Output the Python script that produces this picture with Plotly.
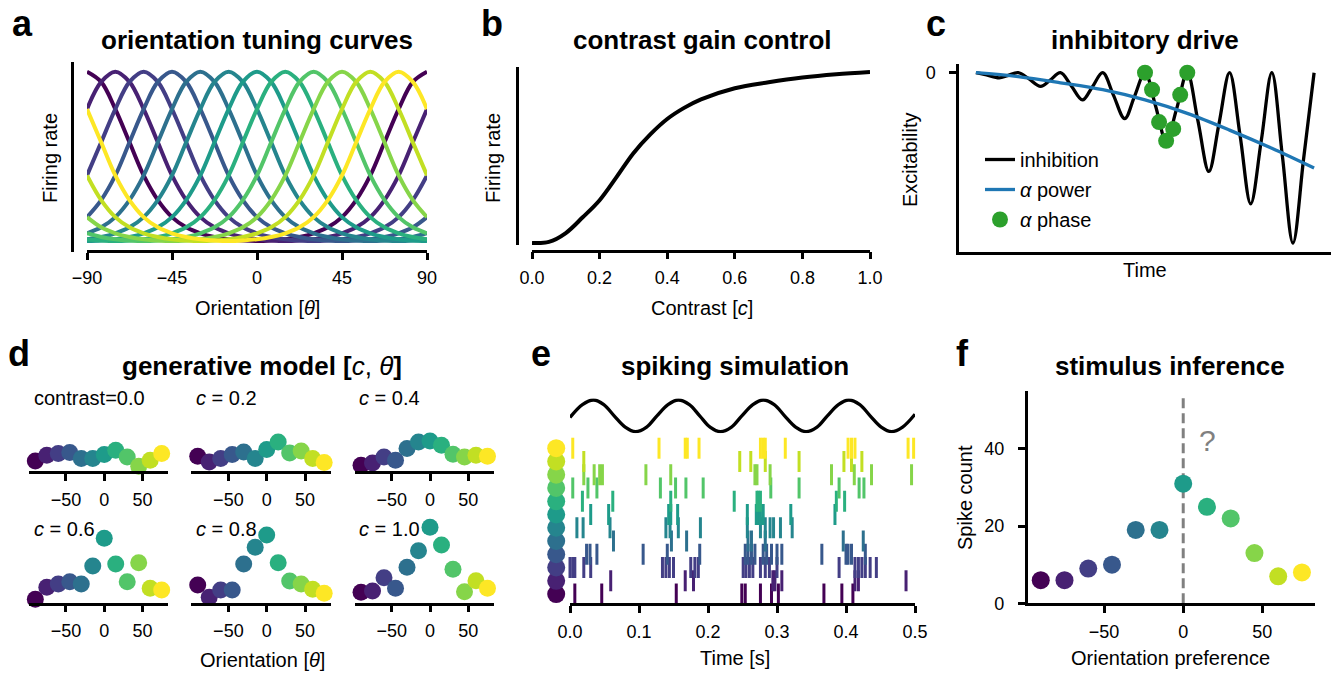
import plotly.graph_objects as go

# ---------------- data ----------------
VIRIDIS12 = ["#440154", "#482173", "#433e85", "#38588c", "#2d708e", "#25858e",
             "#1e9b8a", "#2ab07f", "#52c569", "#86d549", "#c2df23", "#fde725"]

# panel a: tuning curves (shape read vs. circular distance from preferred orientation)
TUNING_PREFS = [-90, -75, -60, -45, -30, -15, 0, 15, 30, 45, 60, 75]
TUNING_OFFSETS = [0, 7.5, 15, 22.5, 30, 37.5, 45, 52.5, 60, 67.5, 75, 82.5, 90]
TUNING_SHAPE = [1.0, 0.94, 0.78, 0.585, 0.39, 0.245, 0.145, 0.085, 0.05, 0.028, 0.015, 0.008, 0.005]
ORIENT_GRID = [-90, -82.5, -75, -67.5, -60, -52.5, -45, -37.5, -30, -22.5, -15, -7.5, 0,
               7.5, 15, 22.5, 30, 37.5, 45, 52.5, 60, 67.5, 75, 82.5, 90]
A_XTICKS = [-90, -45, 0, 45, 90]

# panel b: contrast response
CONTRAST = [0.0, 0.05, 0.1, 0.15, 0.2, 0.25, 0.3, 0.35, 0.4, 0.45, 0.5, 0.6, 0.7, 0.8, 0.9, 1.0]
CONTRAST_RATE = [0.0, 0.006, 0.058, 0.15, 0.25, 0.385, 0.525, 0.635, 0.725, 0.79, 0.84, 0.905,
                 0.94, 0.968, 0.987, 1.0]
B_XTICKS = [0.0, 0.2, 0.4, 0.6, 0.8, 1.0]

# panel c: inhibitory drive
C_TIME = [0, 0.25, 0.55, 0.75, 1, 1.25, 1.53, 1.75, 2, 2.25, 2.52, 2.75, 3, 3.25, 3.52, 3.75,
          4, 4.25, 4.5, 4.75, 5, 5.25, 5.51, 5.75, 6, 6.25, 6.5, 6.75, 7, 7.25, 7.5, 7.75, 8]
C_INHIB = [0, -0.013, -0.03, -0.017, 0, -0.035, -0.08, -0.045, 0, -0.075, -0.16, -0.085,
           0, -0.13, -0.27, -0.14, 0, -0.195, -0.40, -0.21, 0, -0.28, -0.58, -0.30,
           0, -0.37, -0.77, -0.40, 0, -0.49, -1.0, -0.51, 0]
C_POWER_T = [0, 1, 2, 3, 4, 5, 6, 7, 8]
C_POWER = [0, -0.023, -0.059, -0.10, -0.16, -0.239, -0.337, -0.444, -0.56]
C_PHASE_T = [4.0, 4.167, 4.333, 4.5, 4.667, 4.833, 5.0]
C_PHASE_V = [0, -0.10, -0.29, -0.40, -0.33, -0.13, 0]

# panel d: generative model (rate per orientation for each contrast)
D_ORIENT = [-90, -75, -60, -45, -30, -15, 0, 15, 30, 45, 60, 75]
D_LABELS = ["contrast=0.0", "<i>c</i> = 0.2", "<i>c</i> = 0.4",
            "<i>c</i> = 0.6", "<i>c</i> = 0.8", "<i>c</i> = 1.0"]
D_RATE_C00 = [5.2, 8.0, 8.9, 9.4, 6.4, 6.4, 8.4, 10.5, 7.2, 2.5, 5.5, 8.9]
D_RATE_C02 = [7.5, 4.7, 6.4, 8.4, 9.7, 6.4, 10.9, 14.7, 9.2, 10.2, 6.4, 4.4]
D_RATE_C04 = [3.0, 4.2, 7.2, 5.5, 11.4, 14.7, 15.2, 13.0, 8.5, 7.2, 8.0, 7.5]
D_RATE_C06 = [1.6, 7.6, 9.3, 10.4, 9.3, 18.3, 32.1, 19.3, 10.4, 19.9, 7.1, 6.3]
D_RATE_C08 = [8.8, 2.6, 6.3, 6.3, 19.3, 27.6, 33.8, 19.9, 10.8, 9.3, 6.6, 4.6]
D_RATE_C10 = [5.1, 5.8, 12.4, 7.1, 17.6, 25.9, 37.6, 28.8, 16.6, 5.4, 10.9, 7.1]
D_XTICKS = [-50, 0, 50]

# panel e: spiking simulation
E_SINE_T = [0.0, 0.018, 0.034, 0.049, 0.064, 0.080, 0.095, 0.111, 0.126, 0.142, 0.157,
            0.173, 0.188, 0.203, 0.218, 0.234, 0.249, 0.265, 0.280, 0.296, 0.311, 0.327,
            0.342, 0.358, 0.373, 0.389, 0.404, 0.420, 0.435, 0.451, 0.466, 0.482, 0.5]
E_SINE_V = [-0.1, 0.71, 1, 0.71, 0, -0.71, -1, -0.71, 0, 0.71, 1, 0.71, 0, -0.71, -1, -0.71,
            0, 0.71, 1, 0.71, 0, -0.71, -1, -0.71, 0, 0.71, 1, 0.71, 0, -0.71, -1, -0.71, 0.1]
E_NEURON_T = -0.02
E_SPIKES_N0 = [0.007, 0.046, 0.154, 0.249, 0.254, 0.276, 0.292, 0.302, 0.368, 0.394, 0.410]
E_SPIKES_N1 = [0.059, 0.167, 0.179, 0.294, 0.297, 0.307, 0.413, 0.418, 0.487]
E_SPIKES_N2 = [0.000, 0.004, 0.007, 0.020, 0.030, 0.134, 0.139, 0.144, 0.150, 0.175, 0.181,
               0.186, 0.251, 0.255, 0.260, 0.265, 0.276, 0.283, 0.289, 0.300, 0.390, 0.413,
               0.418, 0.423, 0.428, 0.435, 0.444]
E_SPIKES_N3 = [0.024, 0.029, 0.039, 0.106, 0.141, 0.188, 0.254, 0.258, 0.263, 0.268, 0.280,
               0.285, 0.292, 0.300, 0.307, 0.365, 0.400, 0.403, 0.408, 0.428]
E_SPIKES_N4 = [0.063, 0.147, 0.169, 0.258, 0.263, 0.283, 0.396, 0.425]
E_SPIKES_N5 = [0.010, 0.019, 0.058, 0.139, 0.145, 0.157, 0.189, 0.257, 0.276, 0.283, 0.290,
               0.295, 0.305, 0.322]
E_SPIKES_N6 = [0.030, 0.056, 0.143, 0.146, 0.156, 0.257, 0.270, 0.273, 0.276, 0.280, 0.320, 0.384]
E_SPIKES_N7 = [0.018, 0.062, 0.146, 0.238, 0.271, 0.273, 0.276, 0.386, 0.398]
E_SPIKES_N8 = [0.004, 0.026, 0.039, 0.131, 0.153, 0.168, 0.193, 0.291, 0.332, 0.390, 0.419, 0.426]
E_SPIKES_N9 = [0.020, 0.035, 0.043, 0.047, 0.110, 0.146, 0.268, 0.271, 0.290, 0.379, 0.412,
               0.437, 0.495]
E_SPIKES_N10 = [0.020, 0.246, 0.262, 0.283, 0.332, 0.397, 0.408, 0.423]
E_SPIKES_N11 = [0.004, 0.129, 0.167, 0.170, 0.187, 0.276, 0.280, 0.283, 0.312, 0.403, 0.408,
                0.413, 0.490, 0.498]
E_XTICKS = [0.0, 0.1, 0.2, 0.3, 0.4, 0.5]

# panel f: stimulus inference
F_ORIENT = [-90, -75, -60, -45, -30, -15, 0, 15, 30, 45, 60, 75]
F_COUNT = [6, 6, 9, 10, 19, 19, 31, 25, 22, 13, 7, 8]
F_STIM = 0
F_LINE_Y = [0, 53.5]
F_XTICKS = [-50, 0, 50]
F_YTICKS = [0, 20, 40]

# ---------------- helpers ----------------
W, H = 1344, 675
FONT = "Liberation Sans, Arial, sans-serif"


def PX(x):
    return x / W


def PY(y):
    return 1 - y / H


AX = dict(showline=True, linecolor="black", linewidth=2.5, ticks="outside", ticklen=7,
          tickwidth=2.5, tickcolor="black", showgrid=False, zeroline=False,
          tickfont=dict(family=FONT, size=18, color="black"), fixedrange=True)
XT = dict(ticklabelstandoff=3)
YT = dict(ticklabelstandoff=10)

fig = go.Figure()

# ---- panel a ----
for i, p in enumerate(TUNING_PREFS):
    ys = []
    for x in ORIENT_GRID:
        d = abs(((x - p + 90) % 180) - 90)
        ys.append(TUNING_SHAPE[TUNING_OFFSETS.index(d)])
    fig.add_trace(go.Scatter(x=ORIENT_GRID, y=ys, mode="lines", xaxis="x", yaxis="y",
                             line=dict(color=VIRIDIS12[i], width=4, shape="spline"),
                             showlegend=False, hoverinfo="skip"))

# ---- panel b ----
fig.add_trace(go.Scatter(x=CONTRAST, y=CONTRAST_RATE, mode="lines", xaxis="x2", yaxis="y2",
                         line=dict(color="black", width=4, shape="spline"), showlegend=False))

# ---- panel c ----
fig.add_trace(go.Scatter(x=C_TIME, y=C_INHIB, mode="lines", xaxis="x3", yaxis="y3",
                         line=dict(color="black", width=3.3, shape="spline"),
                         name="inhibition", legendgroup="g1"))
fig.add_trace(go.Scatter(x=C_POWER_T, y=C_POWER, mode="lines", xaxis="x3", yaxis="y3",
                         line=dict(color="#1f77b4", width=3.3, shape="spline"),
                         name="<i>α</i> power", legendgroup="g2"))
fig.add_trace(go.Scatter(x=C_PHASE_T, y=C_PHASE_V, mode="markers", xaxis="x3", yaxis="y3",
                         marker=dict(color="#2ca02c", size=16), cliponaxis=False,
                         name="<i>α</i> phase", legendgroup="g3"))

# ---- panel d ----
D_RATES = [D_RATE_C00, D_RATE_C02, D_RATE_C04, D_RATE_C06, D_RATE_C08, D_RATE_C10]
for k, rates in enumerate(D_RATES):
    n = k + 4
    fig.add_trace(go.Scatter(x=D_ORIENT, y=rates, mode="markers", xaxis=f"x{n}", yaxis=f"y{n}",
                             marker=dict(color=VIRIDIS12, size=17, line=dict(width=0)),
                             cliponaxis=False, showlegend=False))

# ---- panel e ----
fig.add_trace(go.Scatter(x=E_SINE_T, y=E_SINE_V, mode="lines", xaxis="x10", yaxis="y11",
                         line=dict(color="black", width=3.3, shape="spline"), showlegend=False))
E_SPIKES = [E_SPIKES_N0, E_SPIKES_N1, E_SPIKES_N2, E_SPIKES_N3, E_SPIKES_N4, E_SPIKES_N5,
            E_SPIKES_N6, E_SPIKES_N7, E_SPIKES_N8, E_SPIKES_N9, E_SPIKES_N10, E_SPIKES_N11]
for r, spikes in enumerate(E_SPIKES):
    fig.add_trace(go.Scatter(x=spikes, y=[r] * len(spikes), mode="markers", xaxis="x10",
                             yaxis="y10", cliponaxis=False, showlegend=False,
                             marker=dict(symbol="line-ns", size=15,
                                         line=dict(width=3, color=VIRIDIS12[r]))))
# neuron identity dots (own hidden axis pair so they can sit left of t = 0)
fig.add_trace(go.Scatter(x=[E_NEURON_T] * 12, y=list(range(12)), mode="markers", xaxis="x12",
                         yaxis="y13", cliponaxis=False, showlegend=False,
                         marker=dict(color=VIRIDIS12, size=18, line=dict(width=0))))

# ---- panel f ----
fig.add_trace(go.Scatter(x=[F_STIM, F_STIM], y=F_LINE_Y, mode="lines", xaxis="x11", yaxis="y12",
                         line=dict(color="#808080", width=3, dash="10px,5px"), showlegend=False))
fig.add_trace(go.Scatter(x=F_ORIENT, y=F_COUNT, mode="markers", xaxis="x11", yaxis="y12",
                         marker=dict(color=VIRIDIS12, size=18, line=dict(width=0)),
                         cliponaxis=False, showlegend=False))

# ---------------- axes ----------------
lay = {}
lay["xaxis"] = dict(AX, **XT, domain=[PX(87), PX(427)], range=[-90, 90], anchor="free",
                    position=PY(251), tickvals=A_XTICKS)
lay["yaxis"] = dict(AX, domain=[PY(252), PY(62)], range=[-0.06, 1.057], anchor="free",
                    position=PX(72), ticks="", showticklabels=False)
lay["xaxis2"] = dict(AX, **XT, domain=[PX(532), PX(870)], range=[0, 1], anchor="free",
                     position=PY(250.5), tickvals=B_XTICKS, tickformat=".1f")
lay["yaxis2"] = dict(AX, domain=[PY(245), PY(67)], range=[-0.012, 1.029], anchor="free",
                     position=PX(516.7), ticks="", showticklabels=False)
lay["xaxis3"] = dict(AX, domain=[PX(959), PX(1331)], range=[-0.4, 8.4], anchor="y3",
                     ticks="", showticklabels=False)
lay["yaxis3"] = dict(AX, **YT, domain=[PY(251.5), PY(64.2)], range=[-1.05, 0.05], anchor="x3",
                     tickvals=[0])

D_COLS = [(29, 168), (191.4, 330.5), (354.7, 493.8)]
D_ROWS = [(391.3, 471.3), (522.5, 602.5)]
for k in range(6):
    n = k + 4
    c0, c1 = D_COLS[k % 3]
    r0, r1 = D_ROWS[k // 3]
    lay[f"xaxis{n}"] = dict(AX, **XT, domain=[PX(c0), PX(c1)], range=[-98.25, 83.25],
                            anchor=f"y{n}", tickvals=D_XTICKS)
    lay[f"yaxis{n}"] = dict(domain=[PY(r1), PY(r0)], range=[0, 40], anchor=f"x{n}",
                            visible=False, fixedrange=True)

lay["xaxis10"] = dict(AX, **XT, domain=[PX(570), PX(915)], range=[0, 0.5], anchor="y10",
                      tickvals=E_XTICKS, tickformat=".1f")
lay["yaxis10"] = dict(domain=[PY(603.3), PY(440)], range=[-0.70, 11.62], anchor="x10",
                      visible=False, fixedrange=True)
lay["yaxis11"] = dict(domain=[PY(433.3), PY(398.4)], range=[-1.1, 1.1], anchor="x10",
                      visible=False, fixedrange=True)
lay["xaxis12"] = dict(domain=[PX(549.3), PX(915)], range=[-0.03, 0.5], anchor="y13",
                      visible=False, fixedrange=True)
lay["yaxis13"] = dict(domain=[PY(603.3), PY(440)], range=[-0.70, 11.62], anchor="x12",
                      visible=False, fixedrange=True)
lay["xaxis11"] = dict(AX, **XT, domain=[PX(1027.7), PX(1315)], range=[-98.25, 83.25],
                      anchor="y12", tickvals=F_XTICKS)
lay["yaxis12"] = dict(AX, **YT, domain=[PY(603.3), PY(391)], range=[0, 55], anchor="x11",
                      tickvals=F_YTICKS)

# ---------------- text ----------------
ann = []


def txt(x, y, s, size=20, bold=False, angle=0, xanchor="center", yanchor="middle",
        color="black"):
    ann.append(dict(x=PX(x), y=PY(y), xref="paper", yref="paper", text=s, showarrow=False,
                    xanchor=xanchor, yanchor=yanchor, textangle=angle,
                    font=dict(family=FONT, size=size, color=color,
                              weight="bold" if bold else "normal")))


# panel letters (top-anchored so that the baseline sits where the reference has it)
for lx, ly, s in [(22, 1, "a"), (492, 1, "b"), (936, 1, "c"),
                  (19, 331, "d"), (541, 331, "e"), (962, 331, "f")]:
    txt(lx, ly, s, size=36, bold=True, yanchor="top")
# titles
txt(257, 40, "orientation tuning curves", 26, True)
txt(702, 40, "contrast gain control", 26, True)
txt(1145, 40, "inhibitory drive", 26, True)
txt(262, 366, "generative model [<span style='font-weight:normal'><i>c</i>, <i>θ</i></span>]", 26, True)
txt(735, 366, "spiking simulation", 26, True)
txt(1170, 366, "stimulus inference", 26, True)
# axis labels
txt(50, 158, "Firing rate", angle=-90)
txt(257, 308, "Orientation [<i>θ</i>]")
txt(493, 158, "Firing rate", angle=-90)
txt(702, 308, "Contrast [<i>c</i>]")
txt(910, 160, "Excitability", angle=-90)
txt(1145, 270, "Time")
txt(262, 660, "Orientation [<i>θ</i>]")
txt(735, 658, "Time [s]")
txt(965, 497, "Spike count", angle=-90)
txt(1170, 658, "Orientation preference")
txt(1207, 440, "?", 30, color="#808080")
# subplot titles in d
D_LABEL_POS = [(32, 398), (194, 398), (357, 398), (32, 529), (194, 529), (357, 529)]
for (lx, ly), s in zip(D_LABEL_POS, D_LABELS):
    txt(lx, ly, s, 20, xanchor="left")

fig.update_layout(
    width=W, height=H, margin=dict(l=0, r=0, t=0, b=0, autoexpand=False),
    autosize=False,
    paper_bgcolor="white", plot_bgcolor="rgba(0,0,0,0)",
    font=dict(family=FONT, size=18, color="black"),
    annotations=ann,
    showlegend=True,
    legend=dict(x=PX(980), y=PY(140), xanchor="left", yanchor="top",
                bgcolor="rgba(0,0,0,0)", font=dict(family=FONT, size=20, color="black"),
                tracegroupgap=1),
    **lay,
)

fig.write_html("out.html", config={"responsive": False},
               post_script="document.body.style.margin='0px';document.body.style.overflow='hidden';")
